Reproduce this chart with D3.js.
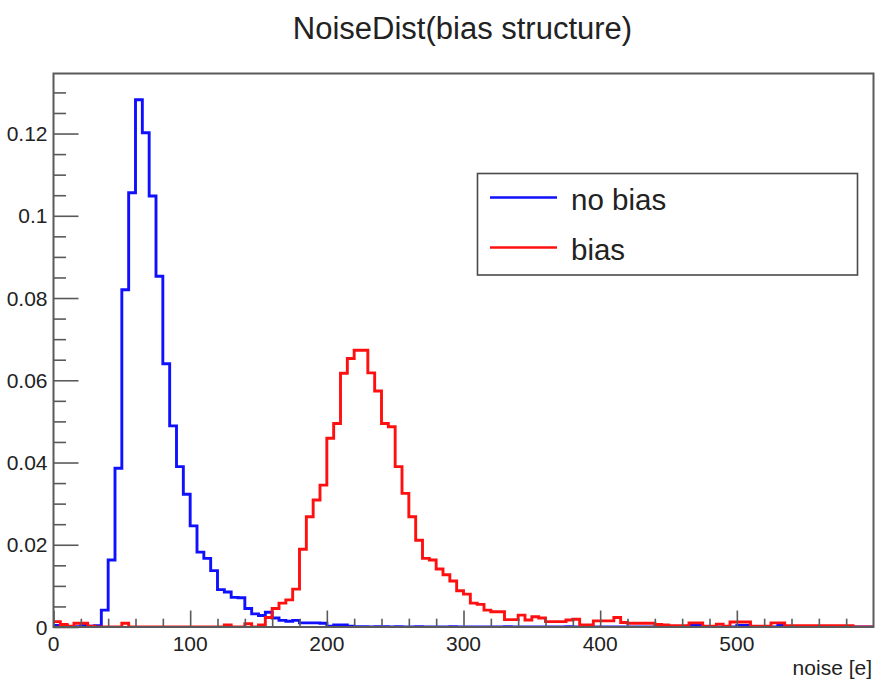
<!DOCTYPE html>
<html>
<head>
<meta charset="utf-8">
<script src="https://cdn.jsdelivr.net/npm/d3@7"></script>
<style>
	body { margin: 0; background: #fff; }
	text { font-family: "Liberation Sans", Arial, Helvetica, sans-serif; fill: #222; }
</style>
</head>
<body>
<div id="chart"></div>
<script>
// histogram contents, bin width 5 over 0..600
const binWidth = 5
const noBiasValues = [
	0.0004, 0.0004, 0.0000, 0.0001, 0.0004, 0.0002, 0.0003, 0.0041, 0.0163, 0.0386,
	0.0820, 0.1056, 0.1282, 0.1202, 0.1048, 0.0853, 0.0640, 0.0489, 0.0390, 0.0323,
	0.0246, 0.0182, 0.0167, 0.0137, 0.0091, 0.0085, 0.0072, 0.0071, 0.0045, 0.0032,
	0.0028, 0.0036, 0.0022, 0.0016, 0.0014, 0.0016, 0.0010, 0.0010, 0.0010, 0.0009,
	0.0002, 0.0005, 0.0005, 0.0002, 0.0001, 0.0001, 0.0000, 0.0001, 0.0001, 0.0000,
	0.0001, 0, 0, 0.0001, 0, 0, 0, 0, 0.0001, 0,
	0, 0, 0, 0, 0, 0, 0.0001, 0, 0, 0,
	0, 0, 0, 0, 0, 0.0001, 0, 0, 0, 0,
	0, 0, 0, 0, 0, 0, 0, 0, 0, 0,
	0, 0, 0, 0.0004, 0.0004, 0, 0, 0, 0, 0,
	0.0004, 0.0004, 0, 0, 0, 0, 0.0004, 0, 0, 0,
	0, 0, 0, 0, 0, 0, 0, 0, 0, 0
]
const biasValues = [
	0.0013, 0.0006, 0.0002, 0.0009, 0.0009, 0.0002, 0, 0, 0, 0,
	0.0009, 0, 0, 0, 0, 0, 0, 0, 0, 0,
	0, 0, 0, 0, 0, 0.0005, 0, 0, 0.0008, 0,
	0.0005, 0.0023, 0.0045, 0.0058, 0.0066, 0.0092, 0.0189, 0.0268, 0.0309, 0.0345,
	0.0459, 0.0495, 0.0617, 0.0653, 0.0673, 0.0673, 0.0618, 0.0574, 0.0495, 0.0487,
	0.0390, 0.0325, 0.0268, 0.0211, 0.0167, 0.0163, 0.0141, 0.0127, 0.0112, 0.0088,
	0.0080, 0.0058, 0.0055, 0.0041, 0.0037, 0.0037, 0.0018, 0.0018, 0.0029, 0.0017,
	0.0025, 0.0022, 0.0013, 0.0013, 0.0013, 0.0017, 0.0019, 0.0005, 0.0005, 0.0015,
	0.0015, 0.0015, 0.0023, 0.0011, 0.0009, 0.0009, 0.0009, 0.0009, 0.0006, 0.0005,
	0.0003, 0.0003, 0.0003, 0.0010, 0.0010, 0.0002, 0.0002, 0.0007, 0.0002, 0.0012,
	0.0012, 0.0012, 0.0002, 0.0002, 0.0002, 0.0010, 0.0010, 0.0003, 0.0003, 0.0003,
	0.0003, 0.0003, 0.0003, 0.0003, 0.0003, 0.0003, 0.0003, 0, 0, 0
]
const seriesNames = ['no bias', 'bias']
const seriesColors = ['#1010ff', '#ff1010']
const xTicks = [0, 100, 200, 300, 400, 500]
const yTicks = [0, 0.02, 0.04, 0.06, 0.08, 0.1, 0.12]

const width = 896
const height = 692
const frame = { left: 53.5, right: 873.5, top: 73.5, bottom: 627 }

const svg = d3.select('#chart')
	.append('svg')
		.attr('width', width)
		.attr('height', height)

const xScale = d3.scaleLinear()
	.domain([0, 600])
	.range([frame.left, frame.right])

const yScale = d3.scaleLinear()
	.domain([0, 0.1346])
	.range([frame.bottom, frame.top])

// title
svg.append('text')
	.attr('x', 462.5)
	.attr('y', 38.5)
	.attr('text-anchor', 'middle')
	.style('font-size', '31px')
	.text('NoiseDist(bias structure)')

svg.append('clipPath')
	.attr('id', 'frame-clip')
	.append('rect')
		.attr('x', frame.left)
		.attr('y', frame.top)
		.attr('width', frame.right - frame.left)
		.attr('height', frame.bottom - frame.top)

// step outlines
const stepLine = d3.line()
	.x(d => xScale(d[0]))
	.y(d => yScale(d[1]))
	.curve(d3.curveStepAfter)

const toSteps = values => {
	const pts = values.map((v, i) => [i * binWidth, v])
	pts.push([values.length * binWidth, values[values.length - 1]])
	return pts
}

const histG = svg.append('g').attr('clip-path', 'url(#frame-clip)')

;[noBiasValues, biasValues].forEach((values, i) => {
	histG.append('path')
		.attr('d', stepLine(toSteps(values)))
		.style('fill', 'none')
		.style('stroke', seriesColors[i])
		.style('stroke-width', 2.9)
		.style('stroke-linejoin', 'miter')
})

// frame
svg.append('rect')
	.attr('x', frame.left)
	.attr('y', frame.top)
	.attr('width', frame.right - frame.left)
	.attr('height', frame.bottom - frame.top)
	.style('fill', 'none')
	.style('stroke', '#5a5a5a')
	.style('stroke-width', 2)

// y axis: ticks inside the frame
const yAxis = d3.axisRight(yScale)
	.tickValues(d3.range(0, 0.1301, 0.005))
	.tickSize(0)
	.tickFormat('')

const yAxisG = svg.append('g')
	.attr('transform', `translate(${frame.left}, 0)`)
	.call(yAxis)
yAxisG.select('.domain').remove()
yAxisG.selectAll('.tick line')
	.attr('x2', (d, i) => i % 4 === 0 ? 25 : 12.5)
	.style('stroke', '#5a5a5a')
	.style('stroke-width', 1.6)

svg.append('g')
	.selectAll('text')
	.data(yTicks)
	.enter()
	.append('text')
		.attr('x', 47.5)
		.attr('y', d => yScale(d))
		.attr('dy', '0.36em')
		.attr('text-anchor', 'end')
		.style('font-size', '21px')
		.text(d => d === 0 ? '0' : String(+d.toFixed(2)))

// x axis
const xAxis = d3.axisTop(xScale)
	.tickValues(d3.range(0, 581, 20))
	.tickSize(0)
	.tickFormat('')

const xAxisG = svg.append('g')
	.attr('transform', `translate(0, ${frame.bottom})`)
	.call(xAxis)
xAxisG.select('.domain').remove()
xAxisG.selectAll('.tick line')
	.attr('y2', (d, i) => i % 5 === 0 ? -16.5 : -8.3)
	.style('stroke', '#5a5a5a')
	.style('stroke-width', 1.6)

svg.append('g')
	.selectAll('text')
	.data(xTicks)
	.enter()
	.append('text')
		.attr('x', d => xScale(d))
		.attr('y', 650.5)
		.attr('text-anchor', 'middle')
		.style('font-size', '21px')
		.text(d => d)

svg.append('text')
	.attr('x', 872)
	.attr('y', 675)
	.attr('text-anchor', 'end')
	.style('font-size', '21px')
	.text('noise [e]')

// legend
const legendG = svg.append('g')
legendG.append('rect')
	.attr('x', 477.5)
	.attr('y', 173.5)
	.attr('width', 380)
	.attr('height', 101.5)
	.style('fill', '#fff')
	.style('stroke', '#4a4a4a')
	.style('stroke-width', 1.6)

const legendItems = legendG.selectAll('g.item')
	.data(seriesNames)
	.enter()
	.append('g')
		.attr('class', 'item')
		.attr('transform', (d, i) => `translate(0, ${197.5 + i * 50})`)

legendItems.append('line')
	.attr('x1', 490)
	.attr('x2', 557)
	.style('stroke', (d, i) => seriesColors[i])
	.style('stroke-width', 2.4)

legendItems.append('text')
	.attr('x', 571)
	.attr('y', 12.5)
	.style('font-size', '29.5px')
	.text(d => d)
</script>
</body>
</html>
